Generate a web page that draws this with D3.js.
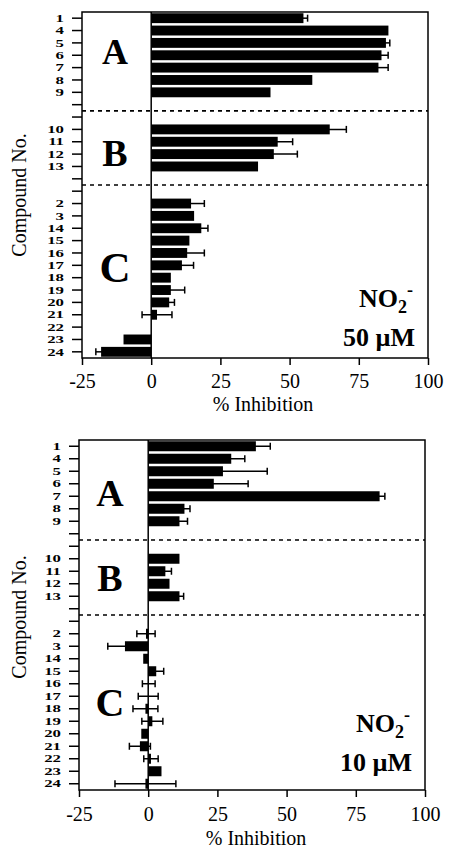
<!DOCTYPE html>
<html>
<head>
<meta charset="utf-8">
<script src="https://cdn.jsdelivr.net/npm/d3@7"></script>
<style>
  body { margin: 0; background: #fff; }
  text { font-family: "Liberation Serif", "Times New Roman", serif; fill: #000; }
</style>
</head>
<body>
<svg width="450" height="848"></svg>
<script>
// compounds, in the order they are plotted
var groupA = ["1", "4", "5", "6", "7", "8", "9"];
var groupB = ["10", "11", "12", "13"];
var groupC = ["2", "3", "14", "15", "16", "17", "18", "19", "20", "21", "22", "23", "24"];

// % inhibition and error, NO2- 50 uM (order: A, B, C)
var inhib50 = [55, 85.7, 84.8, 83.2, 82.1, 58.2, 43.1,
               64.5, 45.7, 44.3, 38.6,
               14.4, 15.5, 18.1, 13.8, 13.0, 11.1, 7.1, 7.1, 6.5, 2.1, 0, -10.0, -18.1];
var err50   = [1.5, 0, 1.4, 2.4, 3.5, 0, 0,
               6, 5.4, 8.5, 0,
               4.8, 0, 2.4, 0, 6.2, 4.2, 0, 5, 1.9, 5.4, 0, 0, 1.9];

// % inhibition and error, NO2- 10 uM
var inhib10 = [38.9, 30.0, 27.0, 23.7, 83.6, 13.1, 11.3,
               11.3, 6.2, 7.7, 11.3,
               -0.8, -8.4, -1.8, 2.9, 0.2, 0, -1, 1.5, -2.5, -3.0, 1, 4.8, -1];
var err10   = [5.2, 4.9, 16, 12.4, 1.9, 2, 2.9,
               0, 2.2, 0, 1.5,
               3.3, 6.2, 0, 2.7, 2.3, 3.6, 4.5, 3.8, 0, 3.8, 2.6, 0, 11];

var xTicks = [-25, 0, 25, 50, 75, 100];

function main() {
    var svg = d3.select("svg");
    var compounds = groupA.concat(groupB, groupC);
    var slots = groupA.concat(["gap1", "gap2"], groupB, ["gap3", "gap4"], groupC);

    var panels = [
        {left: 82, right: 428, top: 12, bottom: 358, pad: 9, values: inhib50, errs: err50,
         conc: "50 \u00b5M", legX: 413, legY: 307, xLabel: [263, 411], yLabel: 195,
         letters: [["A", 115, 64, 36], ["B", 115, 166, 38], ["C", 115, 282, 43]]},
        {left: 79, right: 425, top: 440, bottom: 790, pad: 10, values: inhib10, errs: err10,
         conc: "10 \u00b5M", legX: 410, legY: 732, xLabel: [256, 845], yLabel: 617,
         letters: [["A", 110, 506, 38], ["B", 110, 591, 38], ["C", 110, 716, 40]]}
    ];

    panels.forEach(function(p) {
        var data = compounds.map(function(c, i) {
            return {id: c, v: p.values[i], e: p.errs[i]};
        });

        var x = d3.scaleLinear().domain([-25, 100]).range([p.left, p.right]);
        var y = d3.scaleBand().domain(slots).range([p.top, p.bottom]);
        var bw = y.bandwidth();

        // x axis
        var gx = svg.append("g")
            .attr("transform", `translate(0,${p.bottom})`)
            .call(d3.axisBottom(x).tickValues(xTicks).tickSize(7).tickSizeOuter(0)
                .tickPadding(p.pad).tickFormat(function(d) { return String(d); }));
        gx.select(".domain").remove();
        gx.selectAll("line").attr("stroke-width", 1.5);
        gx.selectAll("text").attr("font-size", 20).style("font-family", "Liberation Serif");

        // y axis, ticks on every slot, labels only for compounds
        var gy = svg.append("g")
            .attr("transform", `translate(${p.left},0)`)
            .call(d3.axisLeft(y).tickSize(10).tickSizeOuter(0)
                .tickFormat(function(d) { return d.indexOf("gap") === 0 ? "" : d; }));
        gy.select(".domain").remove();
        gy.selectAll("line").attr("stroke-width", 1.5);
        // labels are packed tightly in the original, so squeeze them vertically
        gy.selectAll("text")
            .attr("x", 0).attr("dy", "0.34em")
            .attr("transform", "translate(-18,0) scale(1.2,0.78)")
            .attr("font-size", 14).attr("font-weight", "bold")
            .style("font-family", "Liberation Serif");

        // group separators
        ["gap2", "gap4"].forEach(function(g) {
            svg.append("line")
                .attr("x1", p.left).attr("x2", p.right)
                .attr("y1", y(g)).attr("y2", y(g))
                .attr("stroke", "#000").attr("stroke-width", 1.6)
                .attr("stroke-dasharray", "4,4");
        });

        // error bars
        var eg = svg.append("g").attr("stroke", "#000").attr("stroke-width", 1.5);
        data.filter(function(d) { return d.e > 0; }).forEach(function(d) {
            var cy = y(d.id) + bw / 2;
            eg.append("line").attr("x1", x(d.v - d.e)).attr("x2", x(d.v + d.e))
                .attr("y1", cy).attr("y2", cy);
            [d.v - d.e, d.v + d.e].forEach(function(t) {
                eg.append("line").attr("x1", x(t)).attr("x2", x(t))
                    .attr("y1", cy - 3.5).attr("y2", cy + 3.5);
            });
        });

        // bars
        svg.append("g").selectAll("rect")
            .data(data.filter(function(d) { return d.v !== 0; }))
            .join("rect")
              .attr("x", function(d) { return x(Math.min(0, d.v)); })
              .attr("width", function(d) { return Math.abs(x(d.v) - x(0)); })
              .attr("y", function(d) { return y(d.id) + bw * 0.1; })
              .attr("height", bw * 0.8)
              .attr("fill", "#000");

        // zero line and frame
        svg.append("line")
            .attr("x1", x(0)).attr("x2", x(0))
            .attr("y1", p.top).attr("y2", p.bottom)
            .attr("stroke", "#000").attr("stroke-width", 1.5);
        svg.append("rect")
            .attr("x", p.left).attr("y", p.top)
            .attr("width", p.right - p.left).attr("height", p.bottom - p.top)
            .attr("fill", "none").attr("stroke", "#000").attr("stroke-width", 1.5);

        // group letters
        p.letters.forEach(function(l) {
            svg.append("text").text(l[0])
                .attr("x", l[1]).attr("y", l[2])
                .attr("text-anchor", "middle")
                .attr("font-size", l[3]).attr("font-weight", "bold");
        });

        // NO2- label
        var no2 = svg.append("text")
            .attr("x", p.legX).attr("y", p.legY)
            .attr("text-anchor", "end")
            .attr("font-size", 26).attr("font-weight", "bold");
        no2.append("tspan").text("NO");
        no2.append("tspan").text("2").attr("font-size", 18).attr("dy", 6);
        no2.append("tspan").text("-").attr("font-size", 18).attr("dy", -17);
        svg.append("text")
            .attr("x", p.legX + 2).attr("y", p.legY + 39)
            .attr("text-anchor", "end")
            .attr("font-size", 26).attr("font-weight", "bold")
            .text(p.conc);

        // axis titles
        svg.append("text")
            .attr("x", p.xLabel[0]).attr("y", p.xLabel[1])
            .attr("text-anchor", "middle").attr("font-size", 20)
            .text("% Inhibition");
        svg.append("text")
            .attr("transform", `translate(26,${p.yLabel}) rotate(-90)`)
            .attr("text-anchor", "middle").attr("font-size", 20)
            .text("Compound No.");
    });
}
main();
</script>
</body>
</html>
